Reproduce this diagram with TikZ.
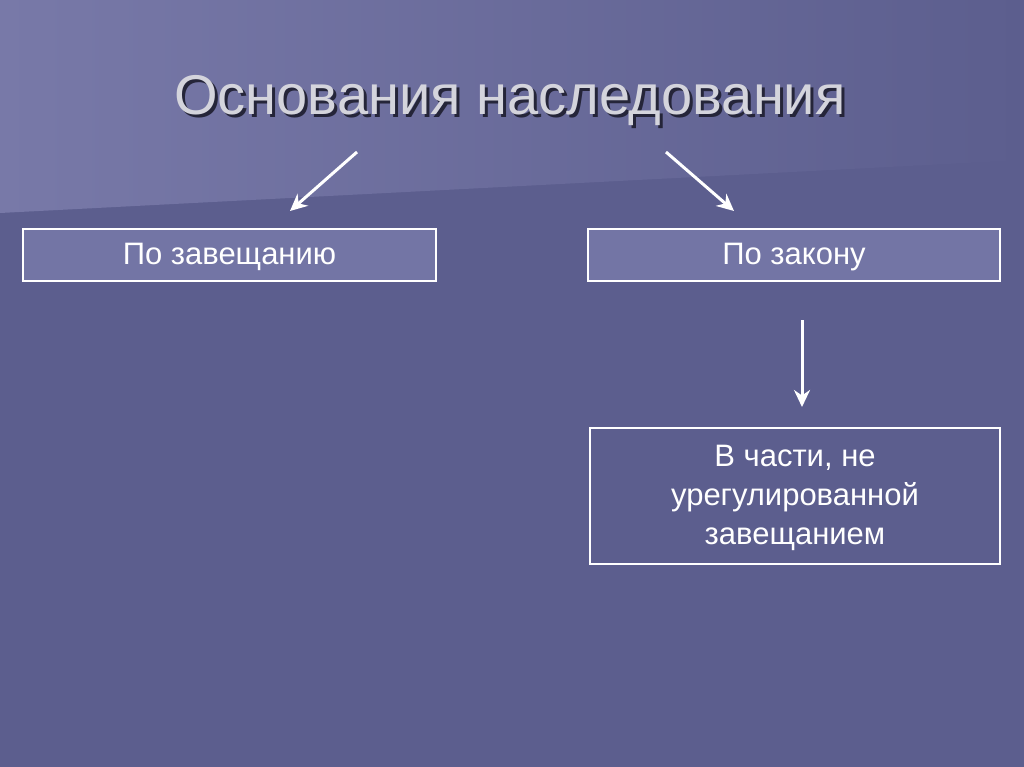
\documentclass[tikz,border=0pt]{standalone}
\usepackage{fontspec}
\setmainfont{Liberation Sans}
\usetikzlibrary{arrows.meta}
\definecolor{bg}{HTML}{5C5E8E}
\definecolor{bgl}{HTML}{7879A8}
\definecolor{boxf}{HTML}{7375A5}
\definecolor{ttl}{HTML}{D4D4DC}
\tikzset{
 cbox/.style={draw=white,line width=2.5pt,inner sep=0pt},
 arr/.style={white,line width=3pt,-{Stealth[length=17pt,width=16pt]}},
 btxt/.style={font=\fontsize{31}{39}\selectfont,text=white,align=center}
}
\begin{document}
\begin{tikzpicture}[x=1pt,y=-1pt]
\useasboundingbox (0,0) rectangle (1024,767);
\fill[bg] (0,0) rectangle (1024,767);
\shade[left color=bgl,right color=bg] (0,0) -- (1024,0) -- (1024,160) -- (0,213) -- cycle;
\node[font=\fontsize{56}{66}\selectfont,text=black!60!bg] at (513,104) {Основания наследования};
\node[font=\fontsize{56}{66}\selectfont,text=ttl] (t) at (510,101) {Основания наследования};
\draw[cbox,fill=boxf] (23,229) rectangle (436,281);
\node[btxt] (a) at (229.5,257) {По завещанию};
\draw[cbox,fill=boxf] (588,229) rectangle (1000,281);
\node[btxt] (b) at (794,257) {По закону};
\draw[cbox] (590,428) rectangle (1000,564);
\node[btxt] (c) at (795,498) {В части, не\\урегулированной\\завещанием};
\coordinate (a1) at (357,152); \coordinate (a2) at (290,211);
\coordinate (b1) at (666,152); \coordinate (b2) at (734,211);
\coordinate (c1) at (802,320); \coordinate (c2) at (802,407);
\draw[arr] (a1) -- (a2);
\draw[arr] (b1) -- (b2);
\draw[arr] (c1) -- (c2);
\end{tikzpicture}
\end{document}
